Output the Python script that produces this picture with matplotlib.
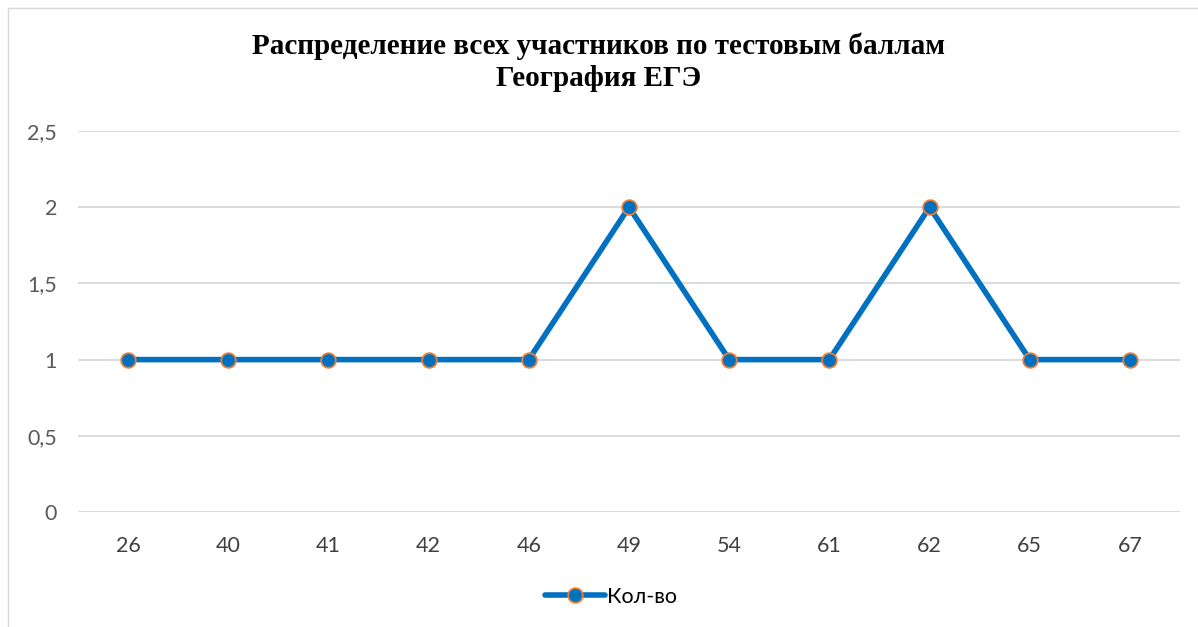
import numpy as np
import matplotlib.pyplot as plt
from matplotlib.ticker import FuncFormatter

# test scores and number of participants
scores = ['26', '40', '41', '42', '46', '49', '54', '61', '62', '65', '67']
counts = [1, 1, 1, 1, 1, 2, 1, 1, 2, 1, 1]

line_color = '#0070C0'
edge_color = '#ED7D31'

fig = plt.figure(figsize=(11.98, 6.27), dpi=100)
ax = fig.add_axes([78 / 1198, 1 - 512 / 627, (1180 - 78) / 1198, (512 - 131) / 627])

x = np.arange(len(scores))
ax.plot(x, counts, color=line_color, lw=4, marker='o', ms=10.5,
        mfc=line_color, mec=edge_color, mew=1.3, label='Кол-во',
        solid_capstyle='round', zorder=3)

ax.set_xlim(-0.5, len(scores) - 0.5)
ax.set_ylim(0, 2.5)
ax.set_yticks(np.arange(0, 2.51, 0.5))
ax.yaxis.set_major_formatter(FuncFormatter(lambda v, p: ('%g' % v).replace('.', ',')))
ax.set_xticks(x)
ax.set_xticklabels(scores)

ax.grid(axis='y', color='#D9D9D9', lw=1.3)
ax.set_axisbelow(True)
for s in ax.spines.values():
    s.set_visible(False)
ax.tick_params(length=0)
ax.tick_params(axis='y', pad=15, labelsize=15.5, labelcolor='#595959')
ax.tick_params(axis='x', pad=17, labelsize=15.5, labelcolor='#404040')
for lab in ax.get_xticklabels() + ax.get_yticklabels():
    lab.set_family('Lato')

fig.text(0.5, 1 - 46 / 627, 'Распределение всех участников по тестовым баллам',
         ha='center', va='center', fontsize=21, fontweight='bold',
         family='Liberation Serif')
fig.text(0.5, 1 - 79 / 627, 'География ЕГЭ', ha='center', va='center',
         fontsize=21, fontweight='bold', family='Liberation Serif')

leg = fig.legend(loc='center', bbox_to_anchor=(0.51, 1 - 597 / 627), frameon=False,
                 prop={'family': 'Lato', 'size': 15.5}, handlelength=2.8,
                 handletextpad=0.1)

# outer chart frame
fig.add_artist(plt.Rectangle((8 / 1198, -0.1), 1.2, 1 - 8 / 627 + 0.1,
                             transform=fig.transFigure, fill=False,
                             ec='#D9D9D9', lw=1))

fig.savefig('out.png', dpi=100)
